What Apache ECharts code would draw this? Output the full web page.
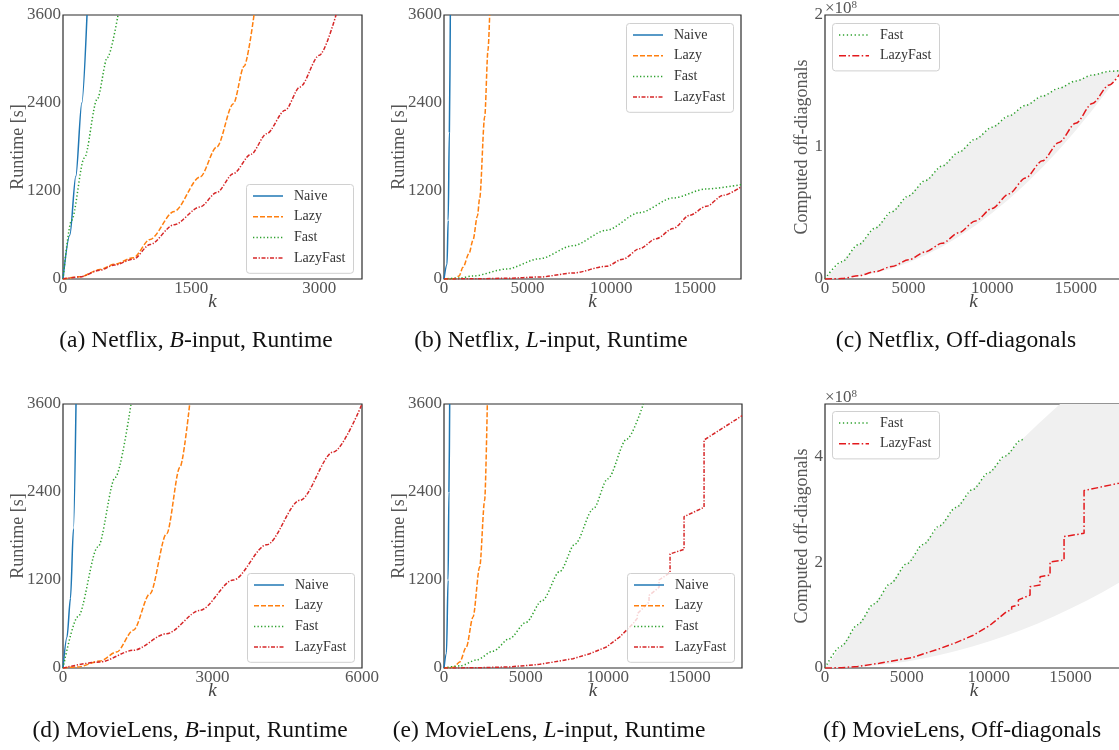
<!DOCTYPE html>
<html><head><meta charset="utf-8">
<script src="https://cdn.jsdelivr.net/npm/echarts@6/dist/echarts.min.js"></script>
<style>html,body{margin:0;padding:0;background:#fff}#c{width:1119px;height:750px}</style>
</head><body><div id="c"></div>
<script>
// ---------- DATA (k, runtime in s) ----------
// (a) Netflix, B-input
const aNaive = [[0,0],[80,600],[150,1400],[220,2400],[281,3600]];
const aLazy = [[0,0],[200,30],[433,130],[600,200],[823,290],[1019,540],[1300,920],[1604,1390],[1800,1800],[1994,2390],[2120,2900],[2236,3600]];
const aFast = [[0,0],[100,800],[250,1650],[400,2450],[520,3020],[644,3600]];
const aLazyFast = [[0,0],[200,30],[433,120],[600,190],[823,270],[1019,470],[1300,740],[1604,982],[1800,1180],[1994,1436],[2200,1700],[2384,1982],[2600,2300],[2774,2618],[3000,3050],[3196,3600]];
// (b) Netflix, L-input
const bNaive = [[0,0],[180,200],[250,800],[320,2000],[378,3600]];
const bLazy = [[0,0],[600,5],[900,40],[1137,160],[1500,350],[1735,530],[2000,860],[2134,1100],[2434,2210],[2633,3120],[2733,3600]];
const bFast = [[0,0],[1000,15],[1735,41],[3731,136],[5726,277],[7720,455],[9713,664],[11707,905],[13702,1105],[15697,1228],[17770,1287]];
const bLazyFast = [[0,0],[2000,3],[3731,10],[5726,27],[7720,82],[9713,173],[10700,270],[11707,414],[12700,550],[13702,687],[14700,869],[15697,991],[16700,1141],[17770,1255]];
// (c) Netflix, off-diagonals (x1e8)
const cK = [0,1000,2000,3000,4000,5000,6000,7000,8000,9000,10000,11000,12000,13000,14000,15000,16000,17000,17770];
const cFast = [0,0.13,0.26,0.385,0.51,0.63,0.745,0.855,0.96,1.06,1.15,1.235,1.315,1.385,1.445,1.5,1.545,1.573,1.58];
const cLazyFast = [0,0.003,0.025,0.055,0.095,0.145,0.205,0.27,0.35,0.44,0.535,0.645,0.765,0.895,1.035,1.18,1.33,1.47,1.58];
const cBandLow = [0,0.005,0.02,0.045,0.08,0.125,0.18,0.245,0.32,0.405,0.5,0.605,0.72,0.845,0.98,1.125,1.28,1.445,1.58];
const cBandHigh = cFast;
// (d) MovieLens, B-input
const dNaive = [[0,0],[80,420],[150,950],[210,1900],[261,3600]];
const dLazy = [[0,0],[300,15],[742,95],[1077,218],[1411,514],[1745,1014],[2080,1832],[2348,2741],[2542,3600]];
const dFast = [[0,0],[300,700],[700,1650],[1050,2600],[1365,3600]];
const dLazyFast = [[0,0],[742,82],[1411,241],[2080,468],[2749,786],[3418,1200],[4087,1680],[4756,2287],[5425,2946],[6000,3600]];
// (e) MovieLens, L-input
const eNaive = [[0,0],[150,200],[250,1200],[300,2400],[347,3600]];
const eLazy = [[0,0],[600,10],[957,82],[1364,286],[1772,695],[2179,1377],[2484,2287],[2646,3600]];
const eFast = [[0,0],[1000,30],[2000,110],[3000,230],[4000,400],[5000,620],[6000,920],[7086,1320],[8000,1690],[9120,2170],[10000,2580],[11160,3120],[12175,3600]];
const eLazyFast = [[0,0],[2000,3],[4000,15],[5844,50],[7881,127],[8900,195],[9917,286],[10731,423],[11546,605],[11810,680],[11810,740],[12523,900],[12523,990],[13134,1100],[13134,1200],[13806,1300],[13806,1555],[14661,1618],[14661,2064],[15883,2191],[15883,3109],[18200,3440]];
// (f) MovieLens, off-diagonals (x1e8)
const fK = [0,1000,2000,3000,4000,5000,6000,7000,8000,9000,10000,11000,12000,13000,14000,15000,16000,17000,18000,18200];
const fBandHigh = [0,0.415,0.82,1.215,1.6,1.975,2.34,2.695,3.04,3.375,3.7,4.015,4.32,4.615,4.9,5.175,5.44,5.695,5.94,5.99];
const fBandLow = [0,0.005,0.02,0.045,0.08,0.125,0.18,0.245,0.32,0.405,0.5,0.605,0.72,0.845,0.98,1.125,1.28,1.445,1.62,1.66];
const fFast = [[0,0],[1000,0.415],[2000,0.82],[3000,1.215],[4000,1.6],[5000,1.975],[6000,2.34],[7000,2.695],[8000,3.04],[9000,3.375],[10000,3.7],[11000,4.015],[12000,4.32],[12116,4.34]];
const fLazyFast = [[0,0],[1000,0.005],[2000,0.03],[3319,0.09],[5355,0.2],[7025,0.37],[8000,0.48],[9061,0.62],[10079,0.81],[11097,1.07],[11400,1.1],[11400,1.16],[11810,1.19],[11810,1.29],[12523,1.38],[12523,1.54],[13134,1.57],[13134,1.73],[13745,1.76],[13745,2.01],[14600,2.045],[14600,2.49],[15822,2.55],[15822,3.36],[17960,3.5],[18200,3.52]];

const runtimeTicks = {min:0, max:3600, interval:1200};
const runNames = ['Naive','Lazy','Fast','LazyFast'];
const offNames = ['Fast','LazyFast'];
const captions = [
  ['(a) Netflix, ', 'B', '-input, Runtime'],
  ['(b) Netflix, ', 'L', '-input, Runtime'],
  ['(c) Netflix, Off-diagonals'],
  ['(d) MovieLens, ', 'B', '-input, Runtime'],
  ['(e) MovieLens, ', 'L', '-input, Runtime'],
  ['(f) MovieLens, Off-diagonals']
];

// ---------- STYLE ----------
const FONT = '"Liberation Serif","DejaVu Serif",serif';
const COL = {Naive:'#1f77b4', Lazy:'#ff7f0e', Fast:'#2ca02c', LazyFast:'#d62728'};
const DASH = {Naive:'solid', Lazy:[5,2], Fast:[1.3,2.2], LazyFast:[4,1.6,1.3,1.6]};
const OFFCOL = {Fast:'#2ca02c', LazyFast:'#e3191c'};
const OFFDASH = {Fast:[1.3,2.6], LazyFast:[7,2.4,1.5,2.4]};
const LBL = '#555';

const grids = [
  {left:63, top:15, width:299, height:264},
  {left:444, top:15, width:297, height:264},
  {left:825, top:15, width:297, height:264},
  {left:63, top:404, width:299, height:264},
  {left:444, top:404, width:298, height:264},
  {left:825, top:404, width:298, height:264}
].map(g => Object.assign(g, {show:true, borderColor:'#2b2b2b', borderWidth:1.2, backgroundColor:'transparent', outerBoundsMode:'none', containLabel:false}));

const fmt = v => String(v);
function xAx(i, max, interval, showMax) {
  return {gridIndex:i, type:'value', min:0, max, interval,
    axisLine:{show:false}, axisTick:{show:false}, splitLine:{show:false},
    axisLabel:{color:LBL, fontSize:17, fontFamily:FONT, margin:1, showMaxLabel:showMax, showMinLabel:true, formatter:fmt},
    name:'k', nameLocation:'middle', nameGap:13, nameMoveOverlap:false,
    nameTextStyle:{fontStyle:'italic', fontSize:19, fontFamily:FONT, color:'#444'}};
}
function yAx(i, name, max, interval, showMax, gap) {
  return {gridIndex:i, type:'value', min:0, max, interval,
    axisLine:{show:false}, axisTick:{show:false}, splitLine:{show:false},
    axisLabel:{color:LBL, fontSize:17, fontFamily:FONT, margin:2, showMaxLabel:showMax, showMinLabel:true, formatter:fmt},
    name, nameLocation:'middle', nameGap:gap, nameMoveOverlap:false,
    nameTextStyle:{fontSize:18, fontFamily:FONT, color:LBL}};
}
const xAxes = [xAx(0,3500,1500,false), xAx(1,17770,5000,false), xAx(2,17770,5000,false),
  xAx(3,6000,3000,true), xAx(4,18200,5000,false), xAx(5,18200,5000,false)];
const yAxes = [yAx(0,'Runtime [s]',runtimeTicks.max,runtimeTicks.interval,true,36),
  yAx(1,'Runtime [s]',runtimeTicks.max,runtimeTicks.interval,true,36),
  yAx(2,'Computed off-diagonals',2,1,true,14),
  yAx(3,'Runtime [s]',runtimeTicks.max,runtimeTicks.interval,true,36),
  yAx(4,'Runtime [s]',runtimeTicks.max,runtimeTicks.interval,true,36),
  yAx(5,'Computed off-diagonals',5,2,false,14)];

function line(name, data, gi, smooth, off) {
  const c = off ? OFFCOL[name] : COL[name];
  const d = off ? OFFDASH[name] : DASH[name];
  return {type:'line', name, data, xAxisIndex:gi, yAxisIndex:gi, symbol:'none', showSymbol:false,
    smooth: smooth ? 0.3 : false, smoothMonotone:'x', clip:true, z:3,
    lineStyle:{color:c, width:1.5, type:d}, itemStyle:{color:c}};
}
function band(k, lo, hi, gi) {
  return {type:'custom', xAxisIndex:gi, yAxisIndex:gi, clip:true, silent:true, z:1,
    data:[[k[0], lo[0]]], encode:{x:0, y:1},
    renderItem(params, api) {
      const pts = [];
      for (let j = 0; j < k.length; j++) pts.push(api.coord([k[j], hi[j]]));
      for (let j = k.length - 1; j >= 0; j--) pts.push(api.coord([k[j], lo[j]]));
      return {type:'polygon', shape:{points:pts}, style:{fill:'#f0f0f0', stroke:null}};
    }};
}

const series = [
  band(cK, cBandLow, cBandHigh, 2),
  band(fK, fBandLow, fBandHigh, 5),
  line('Naive',aNaive,0,true), line('Lazy',aLazy,0,true), line('Fast',aFast,0,true), line('LazyFast',aLazyFast,0,true),
  line('Naive',bNaive,1,true), line('Lazy',bLazy,1,true), line('Fast',bFast,1,true), line('LazyFast',bLazyFast,1,true),
  line('Fast',cK.map((x,j)=>[x,cFast[j]]),2,true,true), line('LazyFast',cK.map((x,j)=>[x,cLazyFast[j]]),2,true,true),
  line('Naive',dNaive,3,true), line('Lazy',dLazy,3,true), line('Fast',dFast,3,true), line('LazyFast',dLazyFast,3,true),
  line('Naive',eNaive,4,true), line('Lazy',eLazy,4,true), line('Fast',eFast,4,true), line('LazyFast',eLazyFast,4,false),
  line('Fast',fFast,5,true,true), line('LazyFast',fLazyFast,5,false,true)
];

// ---------- LEGENDS (drawn as graphics) ----------
const graphics = [];
function legendBox(x, y, names, off) {
  const step = 20.7, h = 8 + names.length * step - 2;
  graphics.push({type:'rect', z:50, shape:{x:x+0.5, y:y+0.5, width:107, height:h, r:3},
    style:{fill:'rgba(255,255,255,0.8)', stroke:'#d0d0d0', lineWidth:1}});
  names.forEach((n, i) => {
    const cy = y + 12 + i * step;
    const dash = off ? OFFDASH[n] : DASH[n];
    graphics.push({type:'line', z:51, shape:{x1:x+7, y1:cy, x2:x+37, y2:cy},
      style:{stroke: off ? OFFCOL[n] : COL[n], lineWidth:1.5, lineDash: dash === 'solid' ? null : dash}});
    graphics.push({type:'text', z:51, x:x+48, y:cy,
      style:{text:n, font:'14px '+FONT, fill:'#333', align:'left', verticalAlign:'middle'}});
  });
}
legendBox(246,184,runNames,false);
legendBox(626,23,runNames,false);
legendBox(832,23,offNames,true);
legendBox(247,573,runNames,false);
legendBox(627,573,runNames,false);
legendBox(832,411,offNames,true);

const capPos = [[196,341],[551,341],[956,341],[190,731],[549,731],[962,731]];
captions.forEach((c,i) => graphics.push({
  type:'text', x:capPos[i][0], y:capPos[i][1], z:20,
  style:{text: c.length===3 ? c[0]+'{i|'+c[1]+'}'+c[2] : c[0], font:'23.5px '+FONT, fill:'#111',
    align:'center', verticalAlign:'middle', rich:{i:{fontStyle:'italic', fontSize:23.5, fontFamily:FONT, fill:'#111'}}}
}));
[[825,17],[825,406]].forEach(p => graphics.push({
  type:'text', x:p[0], y:p[1], z:20,
  style:{text:'×10{s|8}', font:'17px '+FONT, fill:LBL, align:'left', verticalAlign:'bottom', lineHeight:17,
    rich:{s:{fontSize:11, fontFamily:FONT, fill:LBL, verticalAlign:'top', lineHeight:17}}}
}));

const chart = echarts.init(document.getElementById('c'), null, {renderer:'canvas'});
chart.setOption({
  animation:false, backgroundColor:'#fff',
  grid:grids, xAxis:xAxes, yAxis:yAxes, series, graphic:graphics
});
</script></body></html>
